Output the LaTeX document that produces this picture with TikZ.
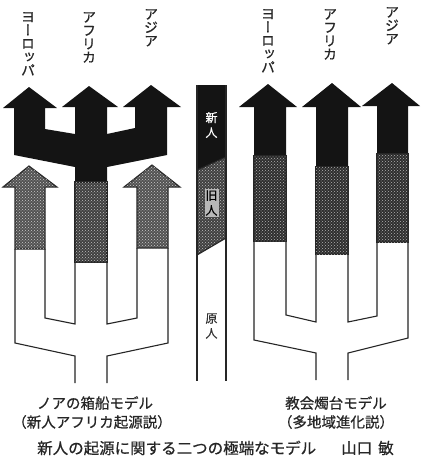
\documentclass[tikz,border=0pt]{standalone}
\usepackage{fontspec}
\usetikzlibrary{patterns}
\newfontfamily\jp{Noto Sans CJK JP}
\newfontfamily\jpb[FakeBold=0.6]{Noto Sans CJK JP}
\newfontfamily\jpv[RawFeature=+vert,FakeBold=0.8]{Noto Sans CJK JP}
\begin{document}
\begin{tikzpicture}[x=1pt,y=-1pt,
  tree/.style={line width=1.1pt, draw=black!85, line join=miter},
  blk/.style={fill=black!92},
  dotsL/.style={fill=black!68, postaction={pattern=crosshatch dots, pattern color=white!80!black}},
  dotsM/.style={fill=black!75, postaction={pattern=crosshatch dots, pattern color=white!75!black}},
  dotsR/.style={fill=black!82, postaction={pattern=crosshatch dots, pattern color=white!70!black}},
  vlab/.style={anchor=north, align=center, inner sep=0pt, text=black!85, font={\jpv\fontsize{14}{13.4}\selectfont\lineskiplimit=-50pt\lineskip=0pt}},
  mlab/.style={align=center, inner sep=0pt, font={\jpb\fontsize{12}{15}\selectfont\lineskiplimit=-50pt\lineskip=0pt}},
  captxt/.style={inner sep=0pt, text=black!85, font=\jpb\fontsize{14.5}{17}\selectfont}]
\useasboundingbox (0,0) rectangle (428,472);
\fill[white] (0,0) rectangle (428,472);

% ---------- left model: Noah's Ark ----------
\fill[blk] (29,87) -- (57,108) -- (45,108) -- (45,129) -- (75,134) -- (75,107) -- (62,107)
  -- (89,86) -- (118,107) -- (107,107) -- (107,134) -- (135,128) -- (135,107) -- (123,107)
  -- (151,85) -- (181,107) -- (167,107) -- (167,155) -- (107,167) -- (107,182) -- (75,182)
  -- (75,167) -- (14,155) -- (14,108) -- (3,108) -- cycle;
\draw[tree, dotsL] (15,249) -- (15,187) -- (3,187) -- (29,166) -- (57,187) -- (45,187) -- (45,249) -- cycle;
\draw[tree, dotsL] (137,248) -- (137,187) -- (124,187) -- (152,165) -- (180,187) -- (168,187) -- (168,248) -- cycle;
\draw[tree, dotsM] (75,182) rectangle (107,262);
\draw[tree] (15,249) -- (15,343) -- (75,356) -- (75,383);
\draw[tree] (45,249) -- (45,318) -- (75,324) -- (75,262);
\draw[tree] (107,262) -- (107,324) -- (137,318) -- (137,248);
\draw[tree] (168,248) -- (168,343) -- (107,356) -- (107,383);

\node[vlab] (leu) at (28,12) {ヨ\\ー\\ロ\\ッ\\パ};
\node[vlab] (laf) at (89,12) {ア\\フ\\リ\\カ};
\node[vlab] (las) at (151,9) {ア\\ジ\\ア};

% ---------- middle column ----------
\fill[blk] (197,85) -- (226,85) -- (226,157) -- (197,170) -- cycle;
\fill[dotsM] (197,170) -- (226,157) -- (226,238) -- (197,255) -- cycle;
\draw[tree] (197,170) -- (226,157);
\draw[tree] (197,255) -- (226,238);
\draw[tree] (197,85) -- (197,381);
\draw[tree] (226,85) -- (226,381);
\node[mlab, text=white] (shin) at (211.5,125) {新\\人};
\node[mlab, text=black, fill=white!72!black, inner sep=1pt] (kyu) at (211.5,203) {旧\\人};
\node[mlab, text=black!80] (gen) at (211.5,326) {原\\人};

% ---------- right model: Candelabra ----------
\fill[blk] (268,84) -- (297,107) -- (286,107) -- (286,156) -- (254,156) -- (254,107) -- (239,107) -- cycle;
\fill[blk] (332,83) -- (361,107) -- (348,107) -- (348,167) -- (316,167) -- (316,107) -- (302,107) -- cycle;
\fill[blk] (392,83) -- (420,106) -- (408,106) -- (408,154) -- (377,154) -- (377,106) -- (362,106) -- cycle;
\draw[tree, dotsR] (254,156) rectangle (286,241);
\draw[tree, dotsR] (316,167) rectangle (348,254);
\draw[tree, dotsR] (377,154) rectangle (408,242);
\draw[tree] (254,241) -- (254,340) -- (316,353) -- (316,380);
\draw[tree] (286,241) -- (286,315) -- (316,322) -- (316,254);
\draw[tree] (348,254) -- (348,322) -- (377,316) -- (377,242);
\draw[tree] (408,242) -- (408,338) -- (348,353) -- (348,380);

\node[vlab] (reu) at (268,9) {ヨ\\ー\\ロ\\ッ\\パ};
\node[vlab] (raf) at (330,9) {ア\\フ\\リ\\カ};
\node[vlab] (ras) at (392,7) {ア\\ジ\\ア};

% ---------- captions ----------
\node[captxt] (lc1) at (95,403) {ノアの箱船モデル};
\node[captxt] (lc2) at (92,422) {（新人アフリカ起源説）};
\node[captxt] (rc1) at (336,403) {教会燭台モデル};
\node[captxt] (rc2) at (336,422) {（多地域進化説）};
\node[captxt, anchor=west, font=\jpb\fontsize{15.5}{17}\selectfont] (title) at (37,448) {新人の起源に関する二つの極端なモデル};
\node[captxt, anchor=west, font=\jpb\fontsize{15.5}{17}\selectfont] (auth1) at (341,448) {山口};
\node[captxt, anchor=west, font=\jpb\fontsize{15.5}{17}\selectfont] (auth2) at (378,448) {敏};
\end{tikzpicture}
\end{document}
